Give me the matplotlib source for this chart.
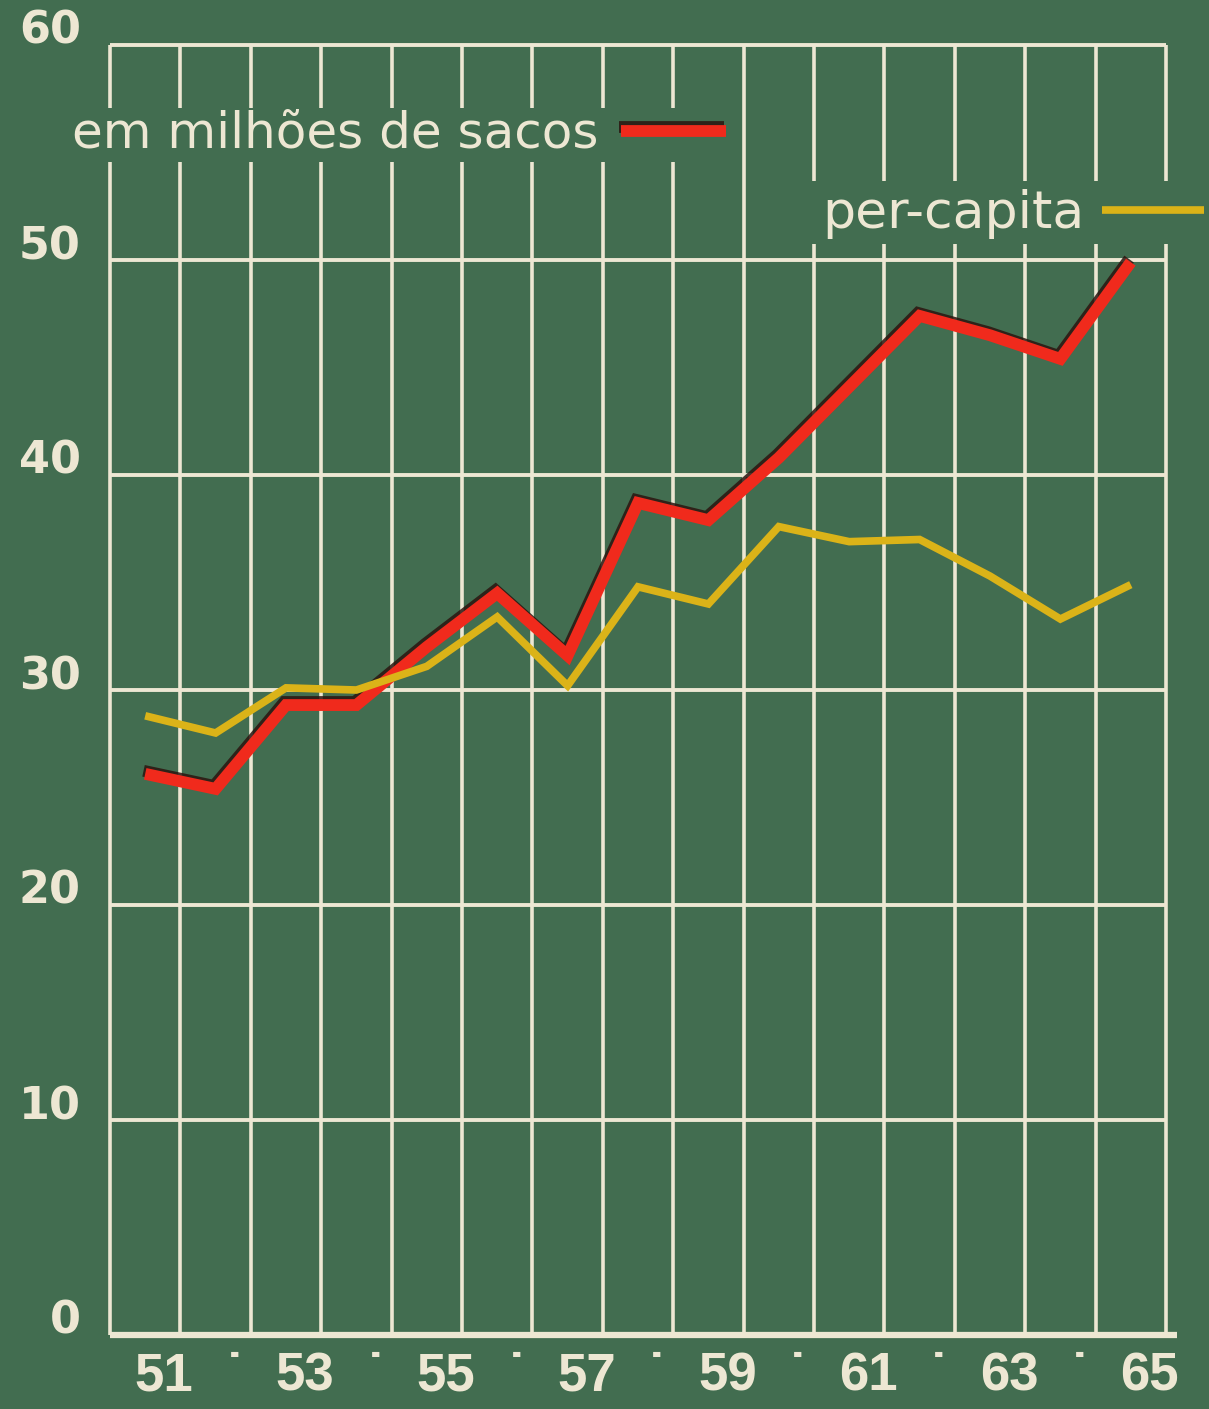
import matplotlib
matplotlib.use('Agg')
import matplotlib.pyplot as plt
import matplotlib.patheffects as pe
from matplotlib.patches import Rectangle
from matplotlib.transforms import ScaledTranslation
import numpy as np

# ---- data ----
years = [51, 52, 53, 54, 55, 56, 57, 58, 59, 60, 61, 62, 63, 64, 65]
year_labels = ['51', '˙', '53', '˙', '55', '˙', '57', '˙', '59', '˙', '61', '˙', '63', '˙', '65']
sacos_values = [26.1, 25.4, 29.3, 29.3, 32.0, 34.5, 31.6, 38.7, 37.9, 40.8, 44.1, 47.4, 46.5, 45.4, 49.9]
percapita_values = [28.8, 28.0, 30.1, 30.0, 31.1, 33.4, 30.2, 34.8, 34.0, 37.6, 36.9, 37.0, 35.3, 33.3, 34.9]
y_ticks = [0, 10, 20, 30, 40, 50, 60]
y_tick_labels = ['0', '10', '20', '30', '40', '50', '60']
label_sacos = 'em milhões de sacos'
label_percapita = 'per-capita'

BG = '#426d50'
CHALK = '#ede7d3'
RED = '#f02a1c'
YELLOW = '#dbb318'

W, H = 1209, 1409
fig = plt.figure(figsize=(W / 100, H / 100), dpi=100, facecolor=BG)
ax = fig.add_axes([110 / W, 1 - 1335 / H, 1056 / W, 1290 / H], facecolor=BG)
ax.set_xlim(50.5, 65.5)
ax.set_ylim(0, 60)
for s in ax.spines.values():
    s.set_visible(False)

# chalk grid
ax.vlines(np.arange(50.5, 65.6, 1), 0, 60, color=CHALK, lw=2.6, zorder=1, clip_on=False)
ax.hlines(y_ticks[1:], 50.5, 65.5, color=CHALK, lw=2.8, zorder=1, clip_on=False)
ax.hlines(0, 50.5, 65.65, color=CHALK, lw=4.5, zorder=1, clip_on=False)

red_line, = ax.plot(years, sacos_values, color=RED, lw=8.5, zorder=3,
                    solid_joinstyle='miter', solid_capstyle='butt',
                    path_effects=[pe.SimpleLineShadow(offset=(-1.2, 2.2), shadow_color='#2b1510', alpha=0.85),
                                  pe.Normal()])
yel_line, = ax.plot(years, percapita_values, color=YELLOW, lw=5.5, zorder=4,
                    solid_joinstyle='miter', solid_capstyle='butt')

# ticks
ax.set_yticks(y_ticks)
ax.set_yticklabels(y_tick_labels, fontsize=32, color=CHALK, family='DejaVu Sans', weight='bold')
ax.tick_params(axis='y', length=0, pad=21)
for lab in ax.get_yticklabels():
    lab.set_transform(lab.get_transform() + ScaledTranslation(0, 0.18, fig.dpi_scale_trans))

ax.set_xticks(years)
ax.set_xticklabels(year_labels, fontsize=38, color=CHALK, weight='bold',
                   family=['Liberation Sans Narrow', 'Liberation Sans', 'DejaVu Sans'])
ax.tick_params(axis='x', length=0, pad=12)
for lab in ax.get_xticklabels():
    lab.set_transform(lab.get_transform() + ScaledTranslation(0.19, 0, fig.dpi_scale_trans))

# bands of blackboard that break the chalk lines behind the legend texts
fig.patches.append(Rectangle((0, 1 - 162 / H), 732 / W, 54 / H, transform=fig.transFigure,
                             facecolor=BG, edgecolor='none', zorder=2))
fig.patches.append(Rectangle((790 / W, 1 - 244 / H), 1 - 790 / W, 63 / H, transform=fig.transFigure,
                             facecolor=BG, edgecolor='none', zorder=2))

common = dict(loc='center left', markerfirst=False, frameon=False, borderaxespad=0,
              borderpad=0, labelcolor=CHALK)
fig.legend([red_line], [label_sacos], bbox_to_anchor=(72 / W, 1 - 134 / H),
           handlelength=2.1, handletextpad=0.45,
           prop={'family': 'DejaVu Sans', 'size': 36}, **common)
fig.legend([yel_line], [label_percapita], bbox_to_anchor=(822 / W, 1 - 214 / H),
           handlelength=1.95, handletextpad=0.35,
           prop={'family': 'DejaVu Sans', 'size': 37.5}, **common)

fig.savefig('out.png', dpi=100, facecolor=BG)
